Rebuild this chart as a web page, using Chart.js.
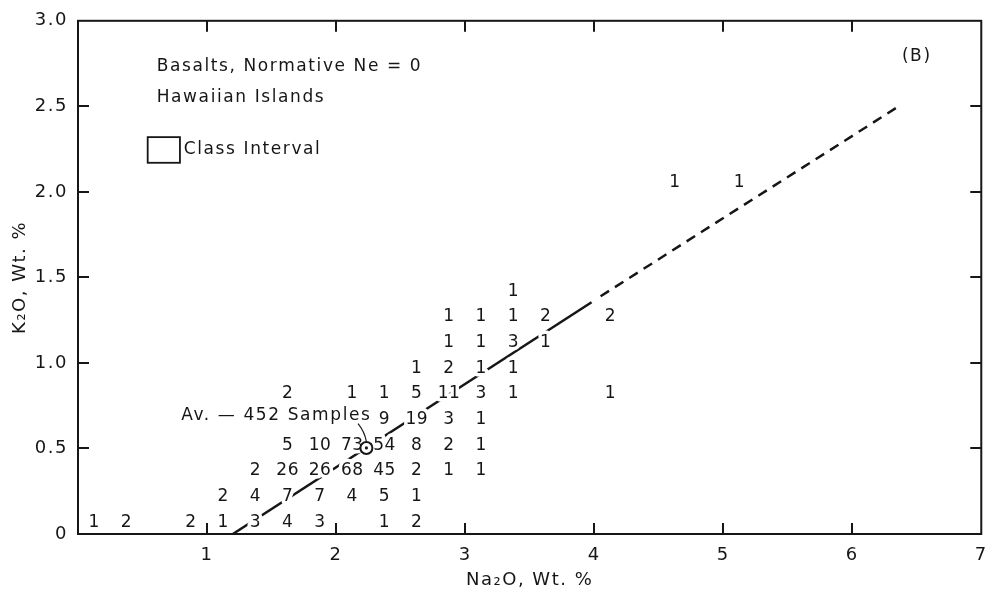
<!DOCTYPE html>
<html>
<head>
<meta charset="utf-8">
<script src="https://cdn.jsdelivr.net/npm/chart.js@4"></script>
<style>
  html, body { margin: 0; padding: 0; background: #fff; }
  canvas { display: block; }
</style>
</head>
<body>
<canvas id="k2o-chart" width="998" height="596"></canvas>
<script>
// Class-interval rows (K2O centre of each row), with the Na2O centres and sample counts in it
const rowK2O = [0.075, 0.225, 0.375, 0.525, 0.675, 0.825, 0.975, 1.125, 1.275, 1.425, 2.06];
const rowNa2O = [
  [0.125, 0.375, 0.875, 1.125, 1.375, 1.625, 1.875, 2.375, 2.625],
  [1.125, 1.375, 1.625, 1.875, 2.125, 2.375, 2.625],
  [1.375, 1.625, 1.875, 2.125, 2.375, 2.625, 2.875, 3.125],
  [1.625, 1.875, 2.125, 2.375, 2.625, 2.875, 3.125],
  [2.375, 2.625, 2.875, 3.125],
  [1.625, 2.125, 2.375, 2.625, 2.875, 3.125, 3.375, 4.125],
  [2.625, 2.875, 3.125, 3.375],
  [2.875, 3.125, 3.375, 3.625],
  [2.875, 3.125, 3.375, 3.625, 4.125],
  [3.375],
  [4.625, 5.125]
];
const rowCounts = [
  [1, 2, 2, 1, 3, 4, 3, 1, 2],
  [2, 4, 7, 7, 4, 5, 1],
  [2, 26, 26, 68, 45, 2, 1, 1],
  [5, 10, 73, 54, 8, 2, 1],
  [9, 19, 3, 1],
  [2, 1, 1, 5, 11, 3, 1, 1],
  [1, 2, 1, 1],
  [1, 1, 3, 1],
  [1, 1, 1, 2, 2],
  [1],
  [1, 1]
];

// trend line: solid part and dashed extrapolation
const trendNa2O = [1.2, 3.98];
const trendK2O = [0, 1.355];
const extNa2O = [4.05, 6.36];
const extK2O = [1.39, 2.5];

// average of 452 samples
const avgNa2O = 2.235;
const avgK2O = 0.503;

// tick labels
const xTicks = [1, 2, 3, 4, 5, 6, 7];
const yTicks = [0, 0.5, 1.0, 1.5, 2.0, 2.5, 3.0];

const INK = '#161616';
const FONT = "'DejaVu Sans', sans-serif";

const cells = [];
rowK2O.forEach((k, i) => {
  rowNa2O[i].forEach((na, j) => cells.push({ x: na, y: k, n: rowCounts[i][j] }));
});

const toPts = (xs, ys) => xs.map((v, i) => ({ x: v, y: ys[i] }));

// box with tick marks on all four sides
const framePlugin = {
  id: 'frame',
  beforeDraw(chart) {
    chart.ctx.letterSpacing = '1.5px';
  },
  beforeDatasetsDraw(chart) {
    const { ctx, chartArea: a, scales: { x, y } } = chart;
    const T = 11;
    ctx.save();
    ctx.strokeStyle = INK;
    ctx.lineWidth = 2;
    ctx.strokeRect(a.left, a.top, a.right - a.left, a.bottom - a.top);
    ctx.beginPath();
    x.ticks.forEach(t => {
      if (t.value <= x.min || t.value >= x.max) return;
      const px = Math.round(x.getPixelForValue(t.value));
      ctx.moveTo(px, a.bottom); ctx.lineTo(px, a.bottom - T);
      ctx.moveTo(px, a.top); ctx.lineTo(px, a.top + T);
    });
    y.ticks.forEach(t => {
      if (t.value <= y.min || t.value >= y.max) return;
      const py = Math.round(y.getPixelForValue(t.value));
      ctx.moveTo(a.left, py); ctx.lineTo(a.left + T, py);
      ctx.moveTo(a.right, py); ctx.lineTo(a.right - T, py);
    });
    ctx.stroke();
    ctx.restore();
  }
};

// sample counts written in their class intervals, with a white halo that breaks the line
const countsPlugin = {
  id: 'counts',
  afterDatasetDraw(chart, args) {
    if (args.meta.label !== 'counts') return;
    const ctx = chart.ctx;
    ctx.save();
    ctx.letterSpacing = '0.5px';
    ctx.font = '17px ' + FONT;
    ctx.textAlign = 'center';
    ctx.textBaseline = 'middle';
    ctx.lineJoin = 'round';
    args.meta.data.forEach((pt, i) => {
      const txt = String(cells[i].n);
      ctx.strokeStyle = '#fff';
      ctx.lineWidth = 7;
      ctx.strokeText(txt, pt.x, pt.y + 1);
      ctx.fillStyle = INK;
      ctx.fillText(txt, pt.x, pt.y + 1);
    });
    ctx.restore();
  }
};

// notes, class-interval key and average label
const notesPlugin = {
  id: 'notes',
  afterDatasetsDraw(chart) {
    const { ctx, scales: { x, y } } = chart;
    const px = v => x.getPixelForValue(v);
    const py = v => y.getPixelForValue(v);
    ctx.save();
    ctx.fillStyle = INK;
    ctx.strokeStyle = INK;
    ctx.textBaseline = 'middle';
    ctx.textAlign = 'left';
    ctx.font = '17px ' + FONT;
    ctx.letterSpacing = '1.6px';
    ctx.fillText('Basalts, Normative Ne = 0', px(0.61), py(2.73));
    ctx.fillText('Hawaiian Islands', px(0.61), py(2.55));
    ctx.fillText('Class Interval', px(0.82), py(2.245));
    ctx.fillText('Av. — 452 Samples', px(0.8), py(0.69));
    ctx.textAlign = 'center';
    ctx.fillText('(B)', px(6.5), py(2.79));

    ctx.lineWidth = 1.8;
    ctx.strokeRect(px(0.54), py(2.32), px(0.79) - px(0.54), py(2.17) - py(2.32));

    // leader from label to the average point
    ctx.lineWidth = 1.2;
    ctx.beginPath();
    ctx.moveTo(px(2.17), py(0.645));
    ctx.quadraticCurveTo(px(2.22), py(0.6), px(2.235), py(0.54));
    ctx.stroke();
    ctx.restore();
  }
};

new Chart(document.getElementById('k2o-chart'), {
  type: 'scatter',
  data: {
    datasets: [
      {
        label: 'trend',
        data: toPts(trendNa2O, trendK2O),
        showLine: true,
        borderColor: INK,
        borderWidth: 2.5,
        pointRadius: 0,
        order: 4
      },
      {
        label: 'trend extrapolated',
        data: toPts(extNa2O, extK2O),
        showLine: true,
        borderColor: INK,
        borderWidth: 2.5,
        borderDash: [10, 7],
        pointRadius: 0,
        order: 4
      },
      {
        label: 'counts',
        data: cells.map(c => ({ x: c.x, y: c.y })),
        pointRadius: 0,
        order: 3
      },
      {
        label: 'average',
        data: [{ x: avgNa2O, y: avgK2O }],
        pointRadius: 6,
        pointBackgroundColor: '#fff',
        pointBorderColor: INK,
        pointBorderWidth: 2,
        order: 2
      },
      {
        label: 'average centre',
        data: [{ x: avgNa2O, y: avgK2O }],
        pointRadius: 1.6,
        pointBackgroundColor: INK,
        pointBorderWidth: 0,
        order: 1
      }
    ]
  },
  options: {
    responsive: false,
    animation: false,
    events: [],
    layout: { padding: { top: 15, right: 15, left: 0, bottom: 0 } },
    plugins: { legend: { display: false }, tooltip: { enabled: false } },
    scales: {
      x: {
        type: 'linear',
        min: 0,
        max: 7,
        grid: { display: false, drawTicks: false },
        border: { display: false },
        afterBuildTicks: s => { s.ticks = [0].concat(xTicks).map(v => ({ value: v })); },
        ticks: {
          padding: 11,
          color: INK,
          font: { family: FONT, size: 18 },
          callback: v => (v === 0 ? '' : String(v))
        },
        title: {
          display: true,
          text: 'Na₂O, Wt. %',
          color: INK,
          font: { family: FONT, size: 18 },
          padding: { top: 0, bottom: 5 }
        },
        afterFit: s => { s.height = 62; }
      },
      y: {
        type: 'linear',
        min: 0,
        max: 3,
        grid: { display: false, drawTicks: false },
        border: { display: false },
        afterBuildTicks: s => { s.ticks = yTicks.map(v => ({ value: v })); },
        ticks: {
          padding: 10,
          color: INK,
          font: { family: FONT, size: 18 },
          callback: v => (v === 0 ? '0' : v.toFixed(1))
        },
        title: {
          display: true,
          text: 'K₂O, Wt. %',
          color: INK,
          font: { family: FONT, size: 18 },
          padding: { top: 10, bottom: 0 }
        },
        afterFit: s => { s.width = 78; }
      }
    }
  },
  plugins: [framePlugin, countsPlugin, notesPlugin]
});
</script>
</body>
</html>
